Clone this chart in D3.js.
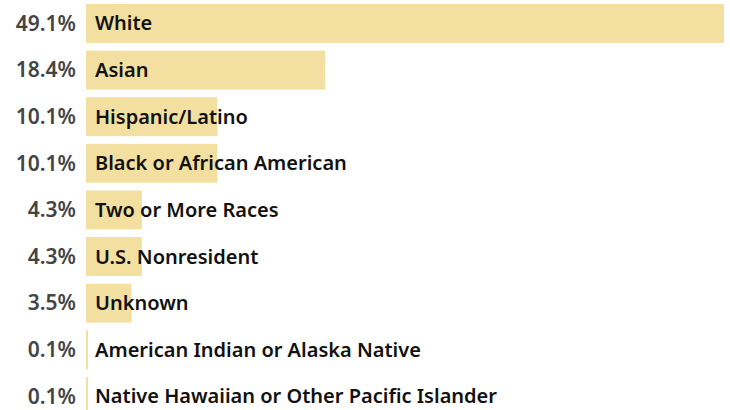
<!DOCTYPE html>
<html>
<head>
<meta charset="utf-8">
<script src="https://cdn.jsdelivr.net/npm/d3@7"></script>
<style>
  body { margin: 0; background: #fff; }
  svg { display: block; }
  text { font-family: "Noto Sans", "Open Sans", sans-serif; font-weight: 600; }
</style>
</head>
<body>
<svg width="730" height="410"></svg>
<script>
var categories = ["White", "Asian", "Hispanic/Latino", "Black or African American",
	"Two or More Races", "U.S. Nonresident", "Unknown",
	"American Indian or Alaska Native", "Native Hawaiian or Other Pacific Islander"];
var shares = [49.1, 18.4, 10.1, 10.1, 4.3, 4.3, 3.5, 0.1, 0.1];
var pctLabels = ["49.1%", "18.4%", "10.1%", "10.1%", "4.3%", "4.3%", "3.5%", "0.1%", "0.1%"];

var svg = d3.select("svg"),
	left = 86,
	right = 724;

var data = categories.map(function(c, i) {
	return { cat: c, value: shares[i], label: pctLabels[i] };
});

var xScale = d3.scaleLinear().domain([0, 49.1]).range([left, right]),
	yScale = d3.scaleBand().domain(categories).range([4, 415.8]).paddingInner(0.165).paddingOuter(0);

var rows = svg.selectAll(".row")
	.data(data)
	.enter().append("g")
	.attr("class", "row");

rows.append("rect")
	.attr("x", xScale(0))
	.attr("y", d => yScale(d.cat))
	.attr("width", d => Math.max(2, xScale(d.value) - xScale(0)))
	.attr("height", yScale.bandwidth())
	.attr("fill", "#f3e0a0");

rows.append("text")
	.attr("x", xScale(0) + 9)
	.attr("y", d => yScale(d.cat) + yScale.bandwidth() / 2)
	.attr("dy", "0.35em")
	.attr("font-size", 20)
	.attr("fill", "#111")
	.text(d => d.cat);

// percentage labels on the left
rows.append("text")
	.attr("x", 76)
	.attr("y", d => yScale(d.cat) + yScale.bandwidth() / 2)
	.attr("dy", "0.35em")
	.attr("text-anchor", "end")
	.attr("font-size", 21)
	.attr("font-weight", 500)
	.attr("fill", "#444")
	.text(d => d.label);
</script>
</body>
</html>
